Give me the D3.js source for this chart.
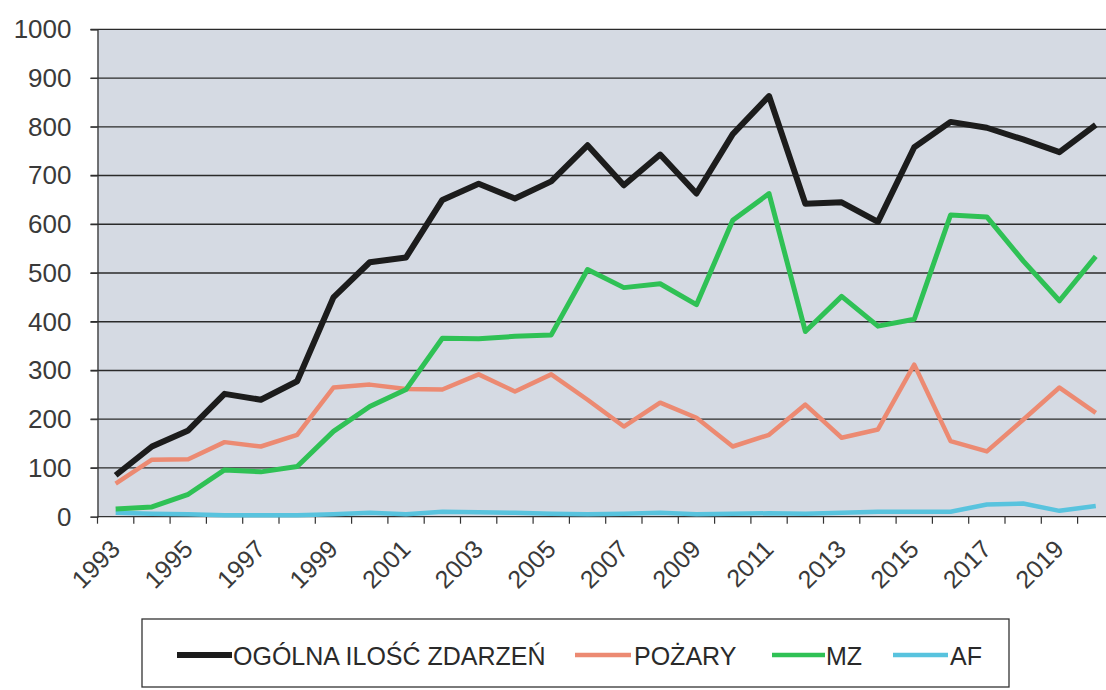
<!DOCTYPE html>
<html><head><meta charset="utf-8">
<script src="https://cdn.jsdelivr.net/npm/d3@7"></script>
<style>
html,body{margin:0;padding:0;background:#fff;}
text{font-family:"Liberation Sans",Arial,sans-serif;}
</style></head>
<body><svg id="c" width="1106" height="690"></svg>
<script>
const years = [1993,1994,1995,1996,1997,1998,1999,2000,2001,2002,2003,2004,2005,2006,2007,2008,2009,2010,2011,2012,2013,2014,2015,2016,2017,2018,2019,2020];
const ogolna = [85,144,177,252,240,278,450,522,532,650,683,653,688,762,680,743,663,785,863,642,645,605,758,810,798,774,748,804];
const pozary = [68,117,118,153,144,168,265,271,262,261,292,257,292,240,185,234,203,144,168,230,162,179,312,155,134,199,265,213];
const mz = [16,20,46,96,92,103,175,226,261,366,365,370,373,507,470,478,435,608,663,380,452,391,405,619,615,525,443,534];
const af = [8,6,5,3,3,3,5,8,5,10,9,8,6,5,6,8,5,6,7,6,8,10,10,10,25,27,12,22];
const yTicks = [0,100,200,300,400,500,600,700,800,900,1000];
const xLabels = [1993,1995,1997,1999,2001,2003,2005,2007,2009,2011,2013,2015,2017,2019];
const seriesNames = ["OGÓLNA ILOŚĆ ZDARZEŃ","POŻARY","MZ","AF"];
const seriesColors = ["#1c1c1c","#ec8a72","#2fc155","#58c3de"];

(function(){
const svg = d3.select("#c");
const pLeft = 97.5, pTop = 29.3, pBottom = 516.7, step = 36.3;
const x = d3.scaleBand().domain(years).range([pLeft, pLeft + step*years.length]).padding(0);
const y = d3.scaleLinear().domain([0,1000]).range([pBottom, pTop]);

svg.append("rect").attr("x", pLeft).attr("y", pTop).attr("width", 1106-pLeft).attr("height", pBottom-pTop).attr("fill", "#d5dae3");

svg.append("g").selectAll("line").data(yTicks.filter(d=>d>0)).join("line")
  .attr("x1", pLeft-7).attr("x2", 1106).attr("y1", d=>y(d)).attr("y2", d=>y(d))
  .attr("stroke", "#2a2a2a").attr("stroke-width", 1.3);

const yAxis = svg.append("g").attr("transform", `translate(${pLeft},0)`)
  .call(d3.axisLeft(y).tickValues(yTicks).tickFormat(d3.format("d")).tickSize(7).tickPadding(19));
yAxis.select(".domain").attr("stroke", "#333").attr("stroke-width", 1.3);
yAxis.selectAll(".tick line").attr("stroke", "#333");
yAxis.selectAll("text").attr("font-size", 26).attr("fill", "#3a3a3a").style("font-family", "Liberation Sans, Arial, sans-serif");

svg.append("line").attr("x1", pLeft).attr("x2", 1106).attr("y1", pBottom).attr("y2", pBottom).attr("stroke", "#333").attr("stroke-width", 1.3);
svg.append("g").selectAll("line").data(years.concat([null])).join("line")
  .attr("x1", (d,i)=> x.range()[0] + i*x.bandwidth())
  .attr("x2", (d,i)=> x.range()[0] + i*x.bandwidth())
  .attr("y1", pBottom).attr("y2", pBottom+7).attr("stroke", "#333").attr("stroke-width", 1.2);

svg.append("g").selectAll("text").data(xLabels).join("text")
  .attr("transform", d=>`translate(${x(d)+x.bandwidth()/2+6},${pBottom+34}) rotate(-45)`)
  .attr("text-anchor", "end").attr("font-size", 25).attr("fill", "#3a3a3a").text(d=>d);

const cx = d => x(d) + x.bandwidth()/2;
const data = [ogolna, pozary, mz, af];
const widths = [6, 4.5, 5, 4.5];
[3,1,2,0].forEach(k => {
  const line = d3.line().x((v,i)=>cx(years[i])).y(v=>y(v));
  svg.append("path").attr("d", line(data[k])).attr("fill","none")
    .attr("stroke", seriesColors[k]).attr("stroke-width", widths[k]).attr("stroke-linejoin","round");
});

const lg = svg.append("g");
lg.append("rect").attr("x", 142).attr("y", 619).attr("width", 867).attr("height", 68)
  .attr("fill", "#fff").attr("stroke", "#333").attr("stroke-width", 1.3);
const lgItems = [
  {x1:177, x2:232, tx:233},
  {x1:575, x2:631, tx:634},
  {x1:772, x2:825, tx:826},
  {x1:893, x2:948, tx:950}
];
lgItems.forEach((it,k)=>{
  lg.append("line").attr("x1", it.x1).attr("x2", it.x2).attr("y1", 655).attr("y2", 655)
    .attr("stroke", seriesColors[k]).attr("stroke-width", k===0?6:4.5);
  lg.append("text").attr("x", it.tx).attr("y", 665).attr("font-size", 25).attr("fill", "#2a2a2a").text(seriesNames[k]);
});
})();
</script></body></html>
